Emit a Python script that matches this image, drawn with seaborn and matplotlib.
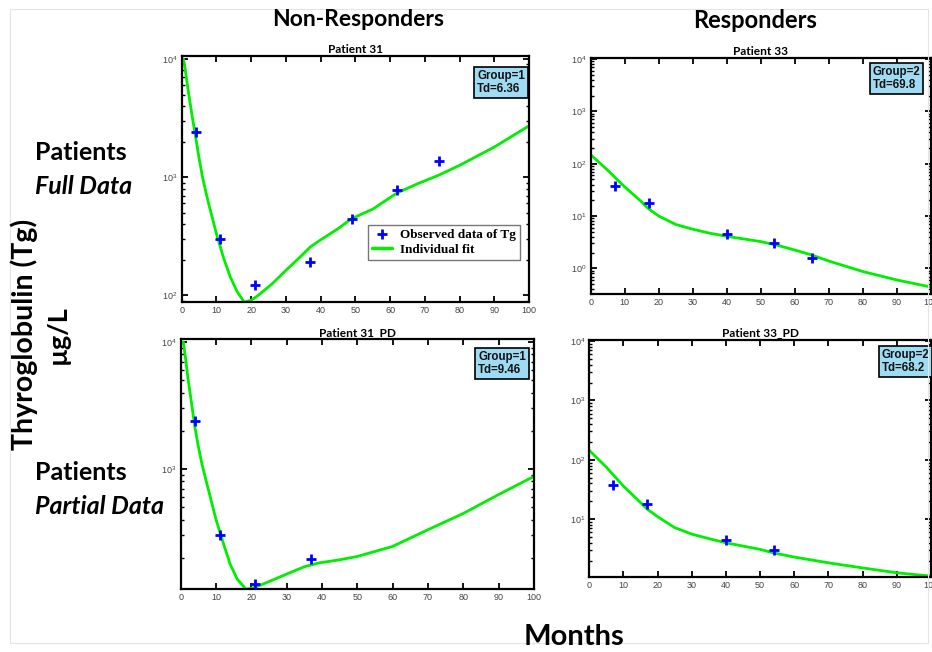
import matplotlib
matplotlib.use("Agg")
import matplotlib.pyplot as plt
import seaborn as sns
from matplotlib.lines import Line2D
from matplotlib.patches import Rectangle

# observed Tg (months, ug/L)
p31_months = [4, 11, 21, 37, 49, 62, 74]
p31_tg = [2400, 300, 123, 190, 440, 780, 1380]
p31pd_months = [4, 11, 21, 37]
p31pd_tg = [2400, 300, 125, 195]
p33_months = [7, 17, 40, 54, 65]
p33_tg = [37, 17.8, 4.5, 3.1, 1.56]
p33pd_months = [7, 17, 40, 54]
p33pd_tg = [37, 17.8, 4.4, 3.0]

# individual fits
fit31_months = [0.5, 1, 2, 3, 4, 5, 6, 7, 8, 10, 12, 14, 16, 18, 20, 22, 26, 30, 34,
                37, 40, 45, 49, 55, 62, 68, 74, 80, 90, 100]
fit31_tg = [10000, 8200, 5100, 3300, 2200, 1450, 1000, 740, 560, 333, 210, 143, 107,
            88, 91, 100, 125, 163, 210, 257, 295, 367, 447, 537, 736, 883, 1040,
            1260, 1800, 2720]
fit31pd_months = [0.75, 1.5, 2, 3, 4, 5, 6, 7, 8, 10, 12, 14, 16, 18.5, 21, 25, 30,
                  35, 39, 45, 50, 60, 70, 80, 90, 100]
fit31pd_tg = [10000, 7000, 5300, 3400, 2150, 1500, 1100, 850, 660, 400, 264, 178,
              136, 113, 117, 130, 149, 170, 182, 193, 205, 246, 333, 447, 630, 875]
fit33_months = [0, 5, 10, 15, 17, 20, 25, 30, 35, 40, 45, 50, 55, 60, 65, 70, 80,
                90, 100]
fit33_tg = [148, 75, 36, 18.6, 13.8, 10, 6.9, 5.6, 4.7, 4.1, 3.65, 3.25, 2.75,
            2.24, 1.8, 1.38, 0.87, 0.6, 0.44]
fit33pd_months = [0, 5, 10, 15, 17, 20, 25, 30, 35, 40, 50, 54, 60, 70, 80, 90, 100]
fit33pd_tg = [144, 75, 36, 19, 14.7, 11, 7.2, 5.6, 4.7, 4.0, 3.1, 2.7, 2.3, 1.84,
              1.51, 1.25, 1.1]

month_ticks = list(range(0, 101, 10))

sns.set_theme(style="white")
plt.rcParams["font.family"] = ["Liberation Sans", "DejaVu Sans"]
plt.rcParams["text.color"] = "black"

W, H = 932, 652
fig = plt.figure(figsize=(W / 100, H / 100), dpi=100)


def px_axes(left, top, right, bottom):
    return fig.add_axes([left / W, 1 - bottom / H, (right - left) / W, (bottom - top) / H])


def draw_panel(ax, obs_x, obs_y, fit_x, fit_y, title, group, td, ylim, box_xy):
    ax.set_yscale("log")
    sns.lineplot(x=fit_x, y=fit_y, ax=ax, color="#00ee00", linewidth=2,
                 sort=False, estimator=None)
    sns.scatterplot(x=obs_x, y=obs_y, ax=ax, marker="+", s=45, color="blue",
                    linewidth=2, zorder=3)
    ax.set_xlim(0, 100)
    ax.set_ylim(*ylim)
    ax.set_xticks(month_ticks)
    ax.tick_params(which="both", direction="in", top=True, right=True,
                   labelsize=6.5, labelcolor="#444444", color="black",
                   left=True, bottom=True)
    ax.tick_params(which="major", length=4, width=1.3, pad=3)
    ax.tick_params(which="minor", length=2.5, width=1.0)
    for s in ax.spines.values():
        s.set_linewidth(1.6)
        s.set_color("black")
    ax.set_title(title, fontsize=8.6, fontweight="bold", family="Lato", pad=2,
                 color="black")
    ax.text(box_xy[0], box_xy[1], f"Group={group}\nTd={td}", transform=ax.transAxes,
            ha="right", va="top", multialignment="left", fontsize=8.3,
            fontweight="bold", linespacing=1.15, color="#111111",
            bbox=dict(boxstyle="square,pad=0.25", fc="#9fdcf3", ec="black", lw=1.2))


ax_tl = px_axes(181.7, 56, 529, 302)
ax_tr = px_axes(590.7, 57.7, 931, 294.3)
ax_bl = px_axes(180.7, 339.3, 534, 589.3)
ax_br = px_axes(589.3, 340, 931, 577.3)

draw_panel(ax_tl, p31_months, p31_tg, fit31_months, fit31_tg, "Patient 31",
           1, "6.36", (88, 10600), (0.989, 0.944))
draw_panel(ax_tr, p33_months, p33_tg, fit33_months, fit33_tg, "Patient 33",
           2, "69.8", (0.32, 10600), (0.969, 0.966))
draw_panel(ax_bl, p31pd_months, p31pd_tg, fit31pd_months, fit31pd_tg, "Patient 31_PD",
           1, "9.46", (113, 10500), (0.978, 0.955))
draw_panel(ax_br, p33pd_months, p33pd_tg, fit33pd_months, fit33pd_tg, "Patient 33_PD",
           2, "68.2", (1.05, 10400), (0.995, 0.963))

handles = [Line2D([], [], marker="+", color="blue", ls="none", markersize=7, mew=2),
           Line2D([], [], color="#00ee00", lw=2.5)]
ax_tl.legend(handles, ["Observed data of Tg", "Individual fit"], loc="upper right",
             bbox_to_anchor=(0.974, 0.312), frameon=True, fancybox=False,
             edgecolor="#777777", framealpha=1, borderpad=0.3, handlelength=1.5,
             handletextpad=0.6, labelspacing=0.15, borderaxespad=0,
             labelcolor="black",
             prop={"family": "Liberation Serif", "weight": "bold", "size": 9.5})

big = dict(family="Lato", fontweight="bold", ha="center", va="center", color="black")
fig.text(358 / W, 1 - 20 / H, "Non-Responders", fontsize=16.5, **big)
fig.text(755 / W, 1 - 20 / H, "Responders", fontsize=17, **big)
fig.text(574 / W, 1 - 637 / H, "Months", fontsize=21, **big)
fig.text(24 / W, 1 - 334 / H, "Thyroglobulin (Tg)", fontsize=20.5, rotation=90, **big)
fig.text(58 / W, 1 - 335 / H, "µg/L", fontsize=19.5, rotation=90, **big)

side = dict(family="Lato", fontweight="bold", ha="left", va="center", fontsize=18,
            color="black")
fig.text(35 / W, 1 - 153 / H, "Patients", **side)
fig.text(35 / W, 1 - 187 / H, "Full Data", style="italic", **side)
fig.text(35 / W, 1 - 473 / H, "Patients", **side)
fig.text(35 / W, 1 - 507 / H, "Partial Data", style="italic", **side)

fig.patches.append(Rectangle((10 / W, 9 / H), 918 / W, 634 / H, transform=fig.transFigure,
                             fill=False, ec="#e4e4e4", lw=0.8))

fig.savefig("out.png", dpi=100)
